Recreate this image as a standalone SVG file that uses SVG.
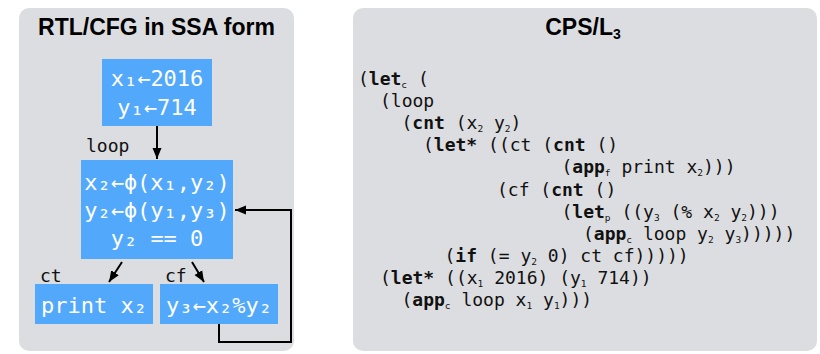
<svg xmlns="http://www.w3.org/2000/svg" width="820" height="354" viewBox="0 0 820 354">
<style>
.panel{fill:#dcdde0}
.title{font-family:"Liberation Sans",Arial,sans-serif;font-weight:bold;font-size:23px;fill:#000;text-anchor:middle}
.box{fill:#52a8fa}
.bt{font-family:"DejaVu Sans Mono",monospace;font-size:22px;fill:#fff;text-anchor:middle}
.lbl{font-family:"DejaVu Sans Mono",monospace;font-size:18px;fill:#111}
.code{font-family:"DejaVu Sans Mono",monospace;font-size:18px;fill:#111}
.b{font-weight:bold}
.s{font-size:9.5px}
.edge{stroke:#000;stroke-width:2;fill:none}
</style>
<defs>
<marker id="ah" markerUnits="userSpaceOnUse" markerWidth="12" markerHeight="12" viewBox="0 0 12 12" refX="11" refY="6" orient="auto">
<path d="M0,1.5 L11,6 L0,10.5 Z" fill="#000"/>
</marker>
</defs>
<g id="panel-left">
<rect class="panel" x="19" y="8" width="275" height="343" rx="10"/>
<text class="title" x="156.5" y="35">RTL/CFG in SSA form</text>
</g>
<g id="panel-right">
<rect class="panel" x="353" y="8" width="464" height="343" rx="10"/>
<text class="title" x="583" y="35">CPS/L<tspan font-size="14" dy="4">3</tspan></text>
</g>
<g id="connectors">
<line class="edge" x1="157" y1="126" x2="157" y2="159" marker-end="url(#ah)"/>
<line class="edge" x1="122" y1="262" x2="109" y2="282" marker-end="url(#ah)"/>
<line class="edge" x1="192" y1="262" x2="204" y2="282" marker-end="url(#ah)"/>
<polyline class="edge" points="219,324 219,342 291,342 291,210 235,210" marker-end="url(#ah)"/>
</g>
<g id="node-init">
<rect class="box" x="102" y="59" width="110" height="67"/>
<text class="bt" x="157" y="86">x₁←2016</text>
<text class="bt" x="157" y="114.5">y₁←714</text>
</g>
<g id="node-loop">
<text class="lbl" x="86" y="152">loop</text>
<rect class="box" x="81" y="160" width="152" height="99"/>
<text class="bt" x="157" y="190">x₂←ϕ(x₁,y₂)</text>
<text class="bt" x="157" y="218">y₂←ϕ(y₁,y₃)</text>
<text class="bt" x="157" y="246">y₂ == 0</text>
</g>
<g id="node-ct">
<text class="lbl" x="40" y="282">ct</text>
<rect class="box" x="35" y="284" width="118" height="40"/>
<text class="bt" x="94" y="313">print x₂</text>
</g>
<g id="node-cf">
<text class="lbl" x="165" y="282">cf</text>
<rect class="box" x="160" y="284" width="118" height="40"/>
<text class="bt" x="219" y="313">y₃←x₂%y₂</text>
</g>
<g id="code">
<text class="code" x="358" y="85">(<tspan class="b">let</tspan><tspan class="s" dy="3">c</tspan><tspan dy="-3"> (</tspan></text>
<text class="code" x="380" y="107">(loop</text>
<text class="code" x="401.5" y="129">(<tspan class="b">cnt</tspan> (x<tspan class="s" dy="3">2</tspan><tspan dy="-3"> y</tspan><tspan class="s" dy="3">2</tspan><tspan dy="-3">)</tspan></text>
<text class="code" x="423" y="151">(<tspan class="b">let*</tspan> ((ct (<tspan class="b">cnt</tspan> ()</text>
<text class="code" x="561.5" y="173">(<tspan class="b">app</tspan><tspan class="s" dy="3">f</tspan><tspan dy="-3"> print x</tspan><tspan class="s" dy="3">2</tspan><tspan dy="-3">)))</tspan></text>
<text class="code" x="497" y="195.5">(cf (<tspan class="b">cnt</tspan> ()</text>
<text class="code" x="561.5" y="217.5">(<tspan class="b">let</tspan><tspan class="s" dy="3">p</tspan><tspan dy="-3"> ((y</tspan><tspan class="s" dy="3">3</tspan><tspan dy="-3"> (% x</tspan><tspan class="s" dy="3">2</tspan><tspan dy="-3"> y</tspan><tspan class="s" dy="3">2</tspan><tspan dy="-3">)))</tspan></text>
<text class="code" x="583" y="239.5">(<tspan class="b">app</tspan><tspan class="s" dy="3">c</tspan><tspan dy="-3"> loop y</tspan><tspan class="s" dy="3">2</tspan><tspan dy="-3"> y</tspan><tspan class="s" dy="3">3</tspan><tspan dy="-3">)))))</tspan></text>
<text class="code" x="444.5" y="261.5">(<tspan class="b">if</tspan> (= y<tspan class="s" dy="3">2</tspan><tspan dy="-3"> 0) ct cf)))))</tspan></text>
<text class="code" x="380" y="284">(<tspan class="b">let*</tspan> ((x<tspan class="s" dy="3">1</tspan><tspan dy="-3"> 2016) (y</tspan><tspan class="s" dy="3">1</tspan><tspan dy="-3"> 714))</tspan></text>
<text class="code" x="401.5" y="306">(<tspan class="b">app</tspan><tspan class="s" dy="3">c</tspan><tspan dy="-3"> loop x</tspan><tspan class="s" dy="3">1</tspan><tspan dy="-3"> y</tspan><tspan class="s" dy="3">1</tspan><tspan dy="-3">)))</tspan></text>
</g>
</svg>
